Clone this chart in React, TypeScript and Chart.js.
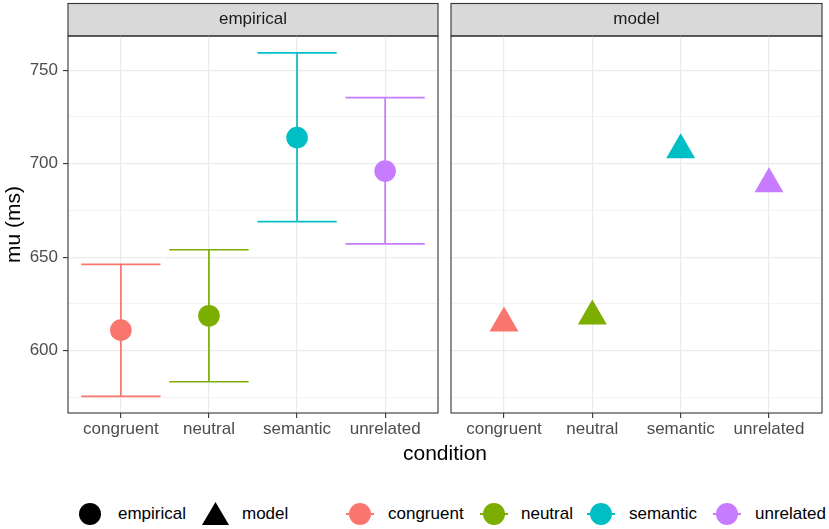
import React, { useEffect, useRef } from 'react';
import { Chart, registerables } from 'chart.js';

Chart.register(...registerables);

// ---------- data ----------
const conditions = ['congruent', 'neutral', 'semantic', 'unrelated'];
const conditionColors = ['#F8766D', '#7CAE00', '#00BFC4', '#C77CFF'];
const conditionX = [1, 2, 3, 4];
const empiricalMu = [611.0, 618.7, 714.0, 696.1];
const empiricalLower = [575.6, 583.4, 669.0, 657.1];
const empiricalUpper = [646.2, 654.0, 759.3, 735.3];
const modelMu = [614.7, 618.5, 707.4, 689.2];
const yMajorTicks = [600, 650, 700, 750];
const yMinorTicks = [575, 625, 675, 725];
const panels = ['empirical', 'model'];
const legendShapes = ['empirical', 'model'];

// ---------- styling / layout ----------
const FONT = '"Liberation Sans", Arial, Helvetica, sans-serif';
const yMin = 566.7;
const yMax = 768.3;
const xMin = 0.4;
const xMax = 4.6;
const capHalf = 0.45;
const SMALL = 17;
const TITLE = 21;

function facetPlugin(label: string) {
  return {
    id: 'facet_' + label,
    beforeDraw(chart: any) {
      const { ctx, chartArea } = chart;
      const { left, right, top, bottom } = chartArea;
      ctx.save();
      ctx.fillStyle = '#FFFFFF';
      ctx.fillRect(left, top, right - left, bottom - top);
      const sTop = 3.5;
      ctx.fillStyle = '#D9D9D9';
      ctx.fillRect(left, sTop, right - left, top - sTop);
      ctx.strokeStyle = '#333333';
      ctx.lineWidth = 1.1;
      ctx.strokeRect(left, sTop, right - left, top - sTop);
      ctx.fillStyle = '#1A1A1A';
      ctx.font = `${SMALL}px ${FONT}`;
      ctx.textAlign = 'center';
      ctx.textBaseline = 'middle';
      ctx.fillText(label, (left + right) / 2, (sTop + top) / 2);
      ctx.restore();
    },
    afterDraw(chart: any) {
      const { ctx, chartArea } = chart;
      const { left, right, top, bottom } = chartArea;
      ctx.save();
      ctx.strokeStyle = '#333333';
      ctx.lineWidth = 1.1;
      ctx.strokeRect(left, top, right - left, bottom - top);
      ctx.restore();
    },
  };
}

function buildConfig(panel: string, showY: boolean, padLeft: number): any {
  const datasets: any[] = [];
  if (panel === 'empirical') {
    datasets.push({
      type: 'line',
      label: 'empirical',
      order: 0,
      showLine: false,
      data: conditionX.map((x, i) => ({ x, y: empiricalMu[i] })),
      pointStyle: 'circle',
      pointRadius: 10.8,
      pointBorderWidth: 0,
      pointBackgroundColor: conditionColors,
      pointBorderColor: conditionColors,
    });
    conditions.forEach((c, i) => {
      const x = conditionX[i];
      datasets.push({
        type: 'line',
        label: c + ' interval',
        order: 1,
        data: [
          { x: x - capHalf, y: empiricalUpper[i] },
          { x: x + capHalf, y: empiricalUpper[i] },
          { x: x + capHalf, y: null },
          { x, y: empiricalUpper[i] },
          { x, y: empiricalLower[i] },
          { x, y: null },
          { x: x - capHalf, y: empiricalLower[i] },
          { x: x + capHalf, y: empiricalLower[i] },
        ],
        borderColor: conditionColors[i],
        borderWidth: 1.7,
        pointRadius: 0,
        spanGaps: false,
        tension: 0,
        fill: false,
      });
    });
  } else {
    datasets.push({
      type: 'line',
      label: 'model',
      order: 0,
      showLine: false,
      data: conditionX.map((x, i) => ({ x, y: modelMu[i] })),
      pointStyle: 'triangle',
      pointRadius: 16.7,
      pointBorderWidth: 0,
      pointBackgroundColor: conditionColors,
      pointBorderColor: conditionColors,
    });
  }

  const allY = [...yMinorTicks, ...yMajorTicks].sort((a, b) => a - b);
  const isMajor = (v: any) => yMajorTicks.includes(Number(v));

  return {
    type: 'line',
    data: { datasets },
    options: {
      animation: false,
      responsive: true,
      maintainAspectRatio: false,
      events: [],
      layout: { autoPadding: false, padding: { left: padLeft, top: 36, right: 5, bottom: 0 } },
      plugins: { legend: { display: false }, tooltip: { enabled: false } },
      scales: {
        x: {
          type: 'linear',
          min: xMin,
          max: xMax,
          afterBuildTicks: (s: any) => {
            s.ticks = conditionX.map((v) => ({ value: v }));
          },
          afterFit: (s: any) => {
            s.height = 32;
          },
          ticks: {
            autoSkip: false,
            maxRotation: 0,
            padding: 1,
            color: '#4D4D4D',
            font: { family: FONT, size: SMALL },
            callback: (v: any) => conditions[conditionX.indexOf(Number(v))] ?? '',
          },
          grid: {
            color: '#EBEBEB',
            lineWidth: 1.2,
            tickLength: 5,
            tickColor: '#333333',
            tickWidth: 1.1,
          },
          border: { display: false },
        },
        y: {
          type: 'linear',
          min: yMin,
          max: yMax,
          afterBuildTicks: (s: any) => {
            s.ticks = allY.map((v) => ({ value: v }));
          },
          afterFit: (s: any) => {
            s.width = showY ? 68 : 0;
          },
          ticks: {
            display: showY,
            padding: 5,
            color: '#4D4D4D',
            font: { family: FONT, size: SMALL },
            callback: (v: any) => (isMajor(v) ? String(v) : ''),
          },
          grid: {
            color: '#EBEBEB',
            lineWidth: (ctx: any) => (ctx.tick && isMajor(ctx.tick.value) ? 1.2 : 0.6),
            drawTicks: showY,
            tickLength: showY ? 5 : 0,
            tickColor: (ctx: any) => (ctx.tick && isMajor(ctx.tick.value) ? '#333333' : 'rgba(0,0,0,0)'),
            tickWidth: 1.1,
          },
          border: { display: false },
          title: showY
            ? {
                display: true,
                text: 'mu (ms)',
                color: '#000000',
                font: { family: FONT, size: TITLE },
                padding: { top: 2, bottom: 0 },
              }
            : { display: false },
        },
      },
    },
    plugins: [facetPlugin(panel)],
  };
}

function Panel({ panel, showY, left, width, padLeft }: { panel: string; showY: boolean; left: number; width: number; padLeft: number }) {
  const ref = useRef<HTMLCanvasElement | null>(null);
  useEffect(() => {
    if (!ref.current) return;
    const chart = new Chart(ref.current, buildConfig(panel, showY, padLeft));
    return () => chart.destroy();
  }, [panel, showY, padLeft]);
  return (
    <div style={{ position: 'absolute', left, top: 0, width, height: 445 }}>
      <canvas ref={ref} />
    </div>
  );
}

const legendText: React.CSSProperties = {
  position: 'absolute',
  top: 505,
  fontFamily: FONT,
  fontSize: SMALL,
  lineHeight: `${SMALL}px`,
  color: '#000000',
  whiteSpace: 'nowrap',
};

export default function App() {
  const colorCenters = [360, 493.5, 600.5, 727];
  const colorTextLeft = [388, 521, 629, 755];
  return (
    <div
      style={{
        position: 'fixed',
        left: 0,
        top: 0,
        width: 829,
        height: 529,
        background: '#FFFFFF',
        overflow: 'hidden',
      }}
    >
      <Panel panel={panels[0]} showY={true} left={0} width={443} padLeft={0} />
      <Panel panel={panels[1]} showY={false} left={440} width={387} padLeft={11} />
      <div
        style={{
          position: 'absolute',
          left: 68,
          width: 754,
          top: 442,
          textAlign: 'center',
          fontFamily: FONT,
          fontSize: TITLE,
          lineHeight: `${TITLE}px`,
          color: '#000000',
        }}
      >
        condition
      </div>
      {/* shape legend */}
      <div style={{ position: 'absolute', left: 79, top: 503, width: 22, height: 22, borderRadius: '50%', background: '#000' }} />
      <div style={{ ...legendText, left: 118 }}>{legendShapes[0]}</div>
      <div
        style={{
          position: 'absolute',
          left: 202,
          top: 502,
          width: 27,
          height: 23,
          background: '#000',
          clipPath: 'polygon(50% 0, 100% 100%, 0 100%)',
        }}
      />
      <div style={{ ...legendText, left: 242 }}>{legendShapes[1]}</div>
      {/* colour legend */}
      {conditions.map((c, i) => (
        <React.Fragment key={c}>
          <div
            style={{
              position: 'absolute',
              left: colorCenters[i] - 14,
              top: 513.2,
              width: 28,
              height: 1.6,
              background: conditionColors[i],
            }}
          />
          <div
            style={{
              position: 'absolute',
              left: colorCenters[i] - 11,
              top: 503,
              width: 22,
              height: 22,
              borderRadius: '50%',
              background: conditionColors[i],
            }}
          />
          <div style={{ ...legendText, left: colorTextLeft[i] }}>{c}</div>
        </React.Fragment>
      ))}
    </div>
  );
}
